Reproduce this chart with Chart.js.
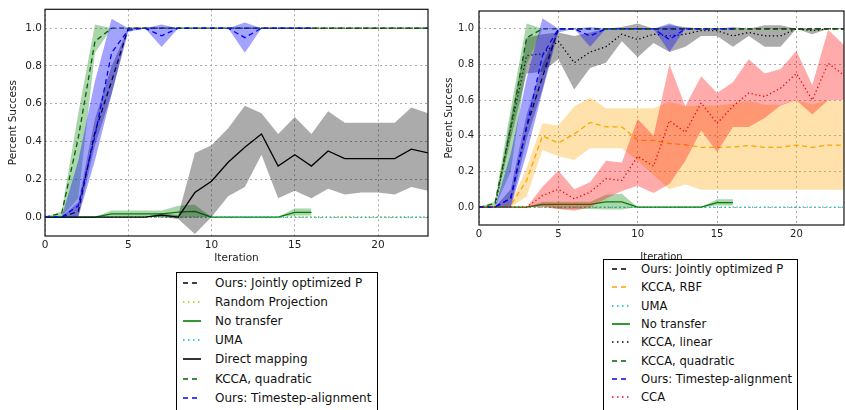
<!DOCTYPE html>
<html>
<head>
<meta charset="utf-8">
<script src="https://cdn.jsdelivr.net/npm/chart.js@4.4.0/dist/chart.umd.min.js"></script>
<style>
  html, body { margin: 0; padding: 0; background: #fff; width: 845px; height: 410px; overflow: hidden; font-family: "DejaVu Sans", sans-serif; }
  .wrap { position: absolute; }
  #leftWrap { left: 0; top: 0; width: 433px; height: 268px; }
  #rightWrap { left: 430px; top: 0; width: 415px; height: 265px; }
  .legend { position: absolute; background: #fff; border: 1px solid #000; box-sizing: border-box; color: #111; }
  .legend .item { position: absolute; left: 0; height: 14px; line-height: 14px; white-space: nowrap; }
  .legend svg { position: absolute; top: 3px; }
  .legend span { position: absolute; }
  #leftLegend { left: 176px; top: 272px; width: 202px; height: 150px; font-size: 12px; }
  #rightLegend { left: 603px; top: 259px; width: 195px; height: 160px; font-size: 11.6px; }
</style>
</head>
<body>
<div class="wrap" id="leftWrap"><canvas id="leftChart"></canvas></div>
<div class="wrap" id="rightWrap"><canvas id="rightChart"></canvas></div>
<div class="legend" id="leftLegend"></div>
<div class="legend" id="rightLegend"></div>
<script>
(function () {
  "use strict";

  /* ── Data ── */
  var iters = [0, 1, 2, 3, 4, 5, 6, 7, 8, 9, 10, 11, 12, 13, 14, 15, 16, 17, 18, 19, 20, 21, 22, 23];
  var xTicks = [0, 5, 10, 15, 20];
  var yTicks = [0, 0.2, 0.4, 0.6, 0.8, 1.0];

  // left panel
  var L_joint    = [0, 0, 0.03, 0.45, 0.72, 1, 1, 1, 1, 1, 1, 1, 1, 1, 1, 1, 1, 1, 1, 1, 1, 1, 1, 1];
  var L_joint_up = [0, 0, 0.08, 0.52, 0.8, 1, 1, 1, 1, 1, 1, 1, 1, 1, 1, 1, 1, 1, 1, 1, 1, 1, 1, 1];
  var L_joint_lo = [0, 0, 0, 0.38, 0.65, 1, 1, 1, 1, 1, 1, 1, 1, 1, 1, 1, 1, 1, 1, 1, 1, 1, 1, 1];
  var L_rand     = [0, 0, 0, 0, 0, 0, 0, 0, 0, 0, 0, 0, 0, 0, 0, 0, 0, 0, 0, 0, 0, 0, 0, 0];
  var L_none     = [0, 0, 0, 0, 0.017, 0.017, 0.017, 0.017, 0.026, 0.03, 0, 0, 0, 0, 0, 0.025, 0.025];
  var L_none_up  = [0, 0, 0, 0, 0.035, 0.035, 0.035, 0.035, 0.06, 0.065, 0, 0, 0, 0, 0, 0.045, 0.045];
  var L_none_lo  = [0, 0, 0, 0, 0, 0, 0, 0, -0.005, 0, 0, 0, 0, 0, 0, 0.008, 0.008];
  var L_uma      = [0, 0, 0, 0, 0, 0, 0, 0, 0, 0, 0, 0, 0, 0, 0, 0, 0, 0, 0, 0, 0, 0, 0, 0];
  var L_direct   = [0, 0, 0, 0, 0, 0, 0, 0.01, 0, 0.13, 0.19, 0.29, 0.37, 0.44, 0.27, 0.33, 0.27, 0.35, 0.31, 0.31, 0.31, 0.31, 0.36, 0.34];
  var L_direct_up = [0, 0, 0, 0, 0, 0, 0, 0.02, 0.01, 0.34, 0.38, 0.47, 0.59, 0.55, 0.44, 0.53, 0.44, 0.56, 0.5, 0.5, 0.5, 0.5, 0.58, 0.55];
  var L_direct_lo = [0, 0, 0, 0, 0, 0, 0, 0, -0.01, -0.09, 0, 0.11, 0.16, 0.33, 0.1, 0.14, 0.1, 0.15, 0.12, 0.13, 0.13, 0.12, 0.16, 0.14];
  var L_kq       = [0, 0.02, 0.42, 0.93, 1, 1, 1, 1, 1, 1, 1, 1, 1, 1, 1, 1, 1, 1, 1, 1, 1, 1, 1, 1];
  var L_kq_up    = [0, 0.03, 0.55, 1.02, 1, 1, 1, 1, 1, 1, 1, 1, 1, 1, 1, 1, 1, 1, 1, 1, 1, 1, 1, 1];
  var L_kq_lo    = [0, 0, 0.1, 0.87, 1, 1, 1, 1, 1, 1, 1, 1, 1, 1, 1, 1, 1, 1, 1, 1, 1, 1, 1, 1];
  var L_ts       = [0, 0, 0.06, 0.43, 0.87, 0.99, 1, 0.96, 1, 1, 1, 1, 0.95, 1, 1, 1, 1];
  var L_ts_up    = [0, 0, 0.3, 0.72, 1.05, 1.0, 1, 1.02, 1, 1, 1, 1, 1.03, 1, 1, 1, 1];
  var L_ts_lo    = [0, 0, 0, 0.3, 0.65, 0.98, 1, 0.9, 1, 1, 1, 1, 0.87, 1, 1, 1, 1];

  // right panel
  var R_joint    = [0, 0, 0.05, 0.45, 0.73, 1, 1, 1, 1, 1, 1, 1, 1, 1, 1, 1, 1, 1, 1, 1, 1, 1, 1, 1];
  var R_joint_up = [0, 0, 0.1, 0.52, 0.8, 1, 1, 1, 1, 1, 1, 1, 1, 1, 1, 1, 1, 1, 1, 1, 1, 1, 1, 1];
  var R_joint_lo = [0, 0, 0, 0.38, 0.66, 1, 1, 1, 1, 1, 1, 1, 1, 1, 1, 1, 1, 1, 1, 1, 1, 1, 1, 1];
  var R_rbf      = [0, 0, 0.01, 0.15, 0.40, 0.36, 0.41, 0.475, 0.45, 0.45, 0.375, 0.375, 0.357, 0.35, 0.335, 0.335, 0.337, 0.345, 0.335, 0.335, 0.348, 0.335, 0.348, 0.348];
  var R_rbf_up   = [0, 0, 0.02, 0.22, 0.47, 0.458, 0.564, 0.613, 0.555, 0.555, 0.555, 0.555, 0.59, 0.567, 0.57, 0.57, 0.58, 0.595, 0.575, 0.575, 0.6, 0.576, 0.6, 0.595];
  var R_rbf_lo   = [0, 0, 0, 0.06, 0.32, 0.285, 0.265, 0.33, 0.33, 0.33, 0.26, 0.18, 0.1, 0.127, 0.098, 0.097, 0.097, 0.097, 0.097, 0.097, 0.097, 0.097, 0.097, 0.097];
  var R_uma      = [0, 0, 0, 0, 0, 0, 0, 0, 0, 0, 0, 0, 0, 0, 0, 0, 0, 0, 0, 0, 0, 0, 0, 0];
  var R_none     = [0, 0, 0, 0, 0.015, 0.016, 0.016, 0.016, 0.03, 0.03, 0, 0, 0, 0, 0, 0.025, 0.025];
  var R_none_up  = [0, 0, 0, 0, 0.03, 0.03, 0.03, 0.03, 0.07, 0.075, 0, 0, 0, 0, 0, 0.045, 0.045];
  var R_none_lo  = [0, 0, 0, 0, 0.005, -0.01, -0.01, -0.01, -0.013, -0.013, 0, 0, 0, 0, 0, 0.01, 0.01];
  var R_lin      = [0, 0, 0.44, 0.85, 0.86, 0.93, 0.81, 0.87, 0.9, 0.97, 0.94, 0.97, 0.96, 0.97, 0.99, 0.99, 0.96, 0.98, 0.96, 0.96, 1.0, 0.99, 1.0, 1.0];
  var R_lin_up   = [0, 0, 0.5, 0.95, 0.97, 0.98, 0.96, 0.98, 1.0, 1.01, 1.03, 1.0, 1.02, 1.01, 1.0, 1.0, 1.01, 1.0, 1.02, 1.02, 1.0, 1.0, 1.0, 1.0];
  var R_lin_lo   = [0, 0, 0.38, 0.75, 0.76, 0.83, 0.66, 0.78, 0.81, 0.93, 0.84, 0.92, 0.87, 0.9, 0.96, 0.96, 0.9, 0.96, 0.9, 0.9, 1.0, 0.97, 1.0, 1.0];
  var R_kq       = [0, 0.02, 0.45, 0.95, 1, 1, 1, 1, 1, 1, 1, 1, 1, 1, 1, 1, 1, 1, 1, 1, 1, 1, 1, 1];
  var R_kq_up    = [0, 0.03, 0.55, 1.03, 1, 1, 1, 1, 1, 1, 1, 1, 1, 1, 1, 1, 1, 1, 1, 1, 1, 1, 1, 1];
  var R_kq_lo    = [0, 0, 0.2, 0.8, 1, 1, 1, 1, 1, 1, 1, 1, 1, 1, 1, 1, 1, 1, 1, 1, 1, 1, 1, 1];
  var R_ts       = [0, 0, 0.05, 0.45, 0.85, 1.0, 1.0, 0.96, 1, 1, 1, 1, 0.94, 1, 1, 1, 1];
  var R_ts_up    = [0, 0, 0.3, 0.72, 1.06, 1.0, 1, 1.01, 1, 1, 1, 1, 1.03, 1, 1, 1, 1];
  var R_ts_lo    = [0, 0, 0, 0.3, 0.65, 0.98, 1, 0.9, 1, 1, 1, 1, 0.87, 1, 1, 1, 1];
  var R_cca      = [0, 0, 0, 0, 0.065, 0.1, 0.047, 0.084, 0.16, 0.15, 0.285, 0.23, 0.485, 0.42, 0.585, 0.47, 0.566, 0.64, 0.62, 0.667, 0.75, 0.6, 0.807, 0.74];
  var R_cca_up   = [0, 0, 0, 0, 0.115, 0.205, 0.1, 0.14, 0.26, 0.25, 0.495, 0.4, 0.8, 0.566, 0.734, 0.64, 0.7, 0.83, 0.75, 0.775, 0.876, 0.685, 0.995, 0.91];
  var R_cca_lo   = [0, 0, 0, 0, 0, -0.01, -0.02, 0, 0.047, 0.09, 0.12, 0.08, 0.13, 0.26, 0.43, 0.31, 0.45, 0.45, 0.5, 0.57, 0.6, 0.52, 0.6, 0.6];

  /* ── Styles ── */
  var dashes = { solid: [], dash: [5, 3.5], dot: [1.3, 2.6] };
  var svgDash = { solid: "", dash: "5,4", dot: "1.5,3.5" };
  var BAND_BLACK = "rgba(0,0,0,0.33)";
  var BAND_GREEN = "rgba(0,128,0,0.33)";
  var BAND_BLUE = "rgba(0,0,255,0.36)";
  var BAND_ORANGE = "rgba(255,165,0,0.33)";
  var BAND_RED = "rgba(255,0,0,0.33)";

  var leftSeries = [
    { label: "Ours: Jointly optimized P", color: "#000000", style: "dash", mean: L_joint, up: L_joint_up, lo: L_joint_lo, band: BAND_BLACK },
    { label: "Random Projection", color: "#bfbf00", style: "dot", mean: L_rand },
    { label: "No transfer", color: "#008000", style: "solid", mean: L_none, up: L_none_up, lo: L_none_lo, band: BAND_GREEN },
    { label: "UMA", color: "#00bfbf", style: "dot", mean: L_uma },
    { label: "Direct mapping", color: "#000000", style: "solid", mean: L_direct, up: L_direct_up, lo: L_direct_lo, band: BAND_BLACK },
    { label: "KCCA, quadratic", color: "#006400", style: "dash", mean: L_kq, up: L_kq_up, lo: L_kq_lo, band: BAND_GREEN },
    { label: "Ours: Timestep-alignment", color: "#0000ff", style: "dash", mean: L_ts, up: L_ts_up, lo: L_ts_lo, band: BAND_BLUE }
  ];

  var rightSeries = [
    { label: "Ours: Jointly optimized P", color: "#000000", style: "dash", mean: R_joint, up: R_joint_up, lo: R_joint_lo, band: BAND_BLACK },
    { label: "KCCA, RBF", color: "#ffa500", style: "dash", mean: R_rbf, up: R_rbf_up, lo: R_rbf_lo, band: BAND_ORANGE },
    { label: "UMA", color: "#00bfbf", style: "dot", mean: R_uma },
    { label: "No transfer", color: "#008000", style: "solid", mean: R_none, up: R_none_up, lo: R_none_lo, band: BAND_GREEN },
    { label: "KCCA, linear", color: "#000000", style: "dot", mean: R_lin, up: R_lin_up, lo: R_lin_lo, band: BAND_BLACK },
    { label: "KCCA, quadratic", color: "#006400", style: "dash", mean: R_kq, up: R_kq_up, lo: R_kq_lo, band: BAND_GREEN },
    { label: "Ours: Timestep-alignment", color: "#0000ff", style: "dash", mean: R_ts, up: R_ts_up, lo: R_ts_lo, band: BAND_BLUE },
    { label: "CCA", color: "#ff0000", style: "dot", mean: R_cca, up: R_cca_up, lo: R_cca_lo, band: BAND_RED }
  ];

  /* ── Helpers ── */
  function pts(arr) {
    return arr.map(function (v, i) { return { x: iters[i], y: v }; });
  }

  function buildDatasets(series) {
    var ds = [];
    var n = series.length;
    series.forEach(function (s, k) {
      var order = n - k;
      ds.push({
        label: s.label, data: pts(s.mean), borderColor: s.color, borderWidth: 1.3,
        borderDash: dashes[s.style], pointRadius: 0, fill: false, tension: 0, order: order
      });
      if (s.lo) {
        ds.push({ label: "", data: pts(s.lo), borderWidth: 0, borderColor: "transparent", pointRadius: 0, fill: false, order: order });
        ds.push({ label: "", data: pts(s.up), borderWidth: 0, borderColor: "transparent", pointRadius: 0, fill: "-1", backgroundColor: s.band, order: order });
      }
    });
    return ds;
  }

  var framePlugin = {
    id: "frame",
    afterDatasetsDraw: function (chart) {
      var a = chart.chartArea, ctx = chart.ctx;
      ctx.save();
      ctx.strokeStyle = "#111";
      ctx.lineWidth = 1.2;
      ctx.strokeRect(a.left, a.top, a.right - a.left, a.bottom - a.top);
      ctx.restore();
    }
  };

  function makeChart(id, series, o) {
    var font = { family: "DejaVu Sans", size: o.font };
    return new Chart(document.getElementById(id).getContext("2d"), {
      type: "line",
      data: { datasets: buildDatasets(series) },
      plugins: [framePlugin],
      options: {
        responsive: true,
        maintainAspectRatio: false,
        animation: false,
        layout: { padding: { top: 6, right: o.padRight, left: 0, bottom: 0 } },
        plugins: { legend: { display: false }, tooltip: { enabled: false } },
        scales: {
          x: {
            type: "linear", min: 0, max: 23,
            afterBuildTicks: function (scale) { scale.ticks = xTicks.map(function (v) { return { value: v }; }); },
            afterFit: function (scale) { scale.height = o.xHeight; },
            ticks: { color: "#222", font: font, padding: o.xTickPad, maxRotation: 0,
              callback: function (v) { return String(v); } },
            grid: { color: "#aaaaaa", lineWidth: 1, drawTicks: false },
            border: { display: false, dash: [2, 3] },
            title: { display: true, text: "Iteration", color: "#222", font: font, padding: { top: 0, bottom: o.xTitlePad } }
          },
          y: {
            type: "linear", min: -0.1, max: 1.1,
            afterBuildTicks: function (scale) { scale.ticks = yTicks.map(function (v) { return { value: v }; }); },
            afterFit: function (scale) { scale.width = o.yWidth; },
            ticks: { color: "#222", font: font, padding: o.yTickPad,
              callback: function (v) { return Number(v).toFixed(1); } },
            grid: { color: "#aaaaaa", lineWidth: 1, drawTicks: false },
            border: { display: false, dash: [2, 3] },
            title: { display: true, text: "Percent Success", color: "#222", font: font, padding: { top: o.yTitlePad, bottom: 0 } }
          }
        }
      }
    });
  }

  function buildLegend(el, series, o) {
    el.innerHTML = series.map(function (s, k) {
      var top = o.first + k * o.step - 7;
      var dash = svgDash[s.style] ? ' stroke-dasharray="' + svgDash[s.style] + '"' : "";
      return '<div class="item" style="top:' + top + 'px">' +
        '<svg width="20" height="8" style="left:' + o.sampleX + 'px">' +
        '<line x1="1" y1="4" x2="19" y2="4" stroke="' + s.color + '" stroke-width="1.6"' + dash + '/></svg>' +
        '<span style="left:' + o.textX + 'px">' + s.label + '</span></div>';
    }).join("");
  }

  /* ── Render ── */
  makeChart("leftChart", leftSeries, { font: 10.5, padRight: 5, xHeight: 32, yWidth: 45, xTickPad: 3, yTickPad: 3, xTitlePad: 3, yTitlePad: 7 });
  makeChart("rightChart", rightSeries, { font: 10, padRight: 1, xHeight: 40, yWidth: 49, xTickPad: 3, yTickPad: 5, xTitlePad: 2, yTitlePad: 13 });

  buildLegend(document.getElementById("leftLegend"), leftSeries, { first: 10, step: 19.1, sampleX: 5, textX: 38 });
  buildLegend(document.getElementById("rightLegend"), rightSeries, { first: 9, step: 18.3, sampleX: 7, textX: 37 });
})();
</script>
</body>
</html>
